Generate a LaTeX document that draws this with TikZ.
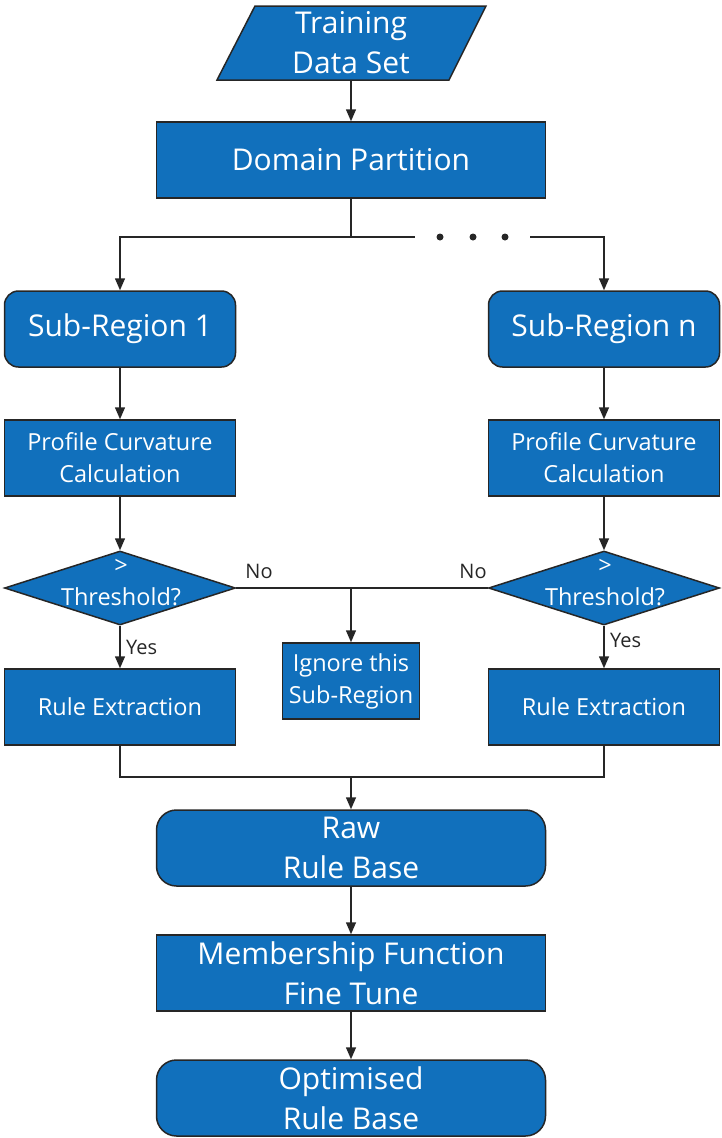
\documentclass[tikz,border=0pt]{standalone}
\usepackage{fontspec}
\setmainfont{Open Sans}
\usetikzlibrary{shapes.geometric,arrows.meta}
\definecolor{boxblue}{HTML}{1170BC}
\definecolor{edgegray}{HTML}{262626}

\begin{document}
\begin{tikzpicture}[x=1pt, y=-1pt,
  box/.style={draw=edgegray, fill=boxblue, line width=1.5pt, text=white, align=center, inner sep=0pt},
  bigbox/.style={box, minimum width=389pt, minimum height=76pt, font=\fontsize{30}{40}\selectfont},
  subbox/.style={box, rounded corners=14pt, minimum width=231pt, minimum height=76pt, font=\fontsize{30}{40}\selectfont},
  smallbox/.style={box, minimum width=231pt, minimum height=76pt, font=\fontsize{23.5}{32}\selectfont},
  decision/.style={box, diamond, minimum width=231pt, minimum height=74pt},
  dectext/.style={text=white, align=center, font=\fontsize{23.5}{32}\selectfont},
  arrow/.style={draw=edgegray, line width=1.5pt, -{Triangle[length=12pt, width=10pt]}},
  link/.style={draw=edgegray, line width=1.5pt},
  lbl/.style={text=edgegray, font=\fontsize{20}{22}\selectfont}
]
\useasboundingbox (0,0) rectangle (722,1138);

% Input
\draw[box] (255,6) -- (486,6) -- (449,80) -- (217,80) -- cycle;
\node[inner sep=0pt, minimum width=231pt, minimum height=74pt, text=white, align=center,
      font=\fontsize{30}{40}\selectfont] (data) at (351,43) {Training\\Data Set};

% Partition
\node[bigbox] (domain) at (351,160) {Domain Partition};
\draw[arrow] (data.south) -- (domain.north);

% Sub-regions
\node[subbox] (sub1) at (120,329) {Sub-Region 1};
\node[subbox] (subn) at (604,329) {Sub-Region n};
\coordinate (split) at (351,237);
\coordinate (gapleft) at (415,237);
\coordinate (gapright) at (530,237);
\draw[link] (domain.south) -- (split);
\draw[arrow] (split) -| (sub1.north);
\draw[link] (split) -- (gapleft);
\draw[arrow] (gapright) -| (subn.north);
\foreach \x in {440,473,505} {
    \fill[edgegray] (\x,237) circle (3.5pt);
}

% Curvature
\node[smallbox] (curv1) at (120,458) {Profile Curvature\\Calculation};
\node[smallbox] (curvn) at (604,458) {Profile Curvature\\Calculation};
\draw[arrow] (sub1.south) -- (curv1.north);
\draw[arrow] (subn.south) -- (curvn.north);

% Decisions
\node[decision] (dec1) at (120,588) {};
\node[dectext] at (121,583) {>\\Threshold?};
\node[decision] (decn) at (604,588) {};
\node[dectext] at (605,583) {>\\Threshold?};
\draw[arrow] (curv1.south) -- (dec1.north);
\draw[arrow] (curvn.south) -- (decn.north);

% No branch
\node[box, minimum width=137pt, minimum height=76pt, font=\fontsize{23.5}{32}\selectfont] (ignore) at (351,681) {Ignore this\\Sub-Region};
\draw[link] (dec1.east) -- (decn.west);
\node[lbl] at (259,571) {No};
\node[lbl] at (473,571) {No};
\draw[arrow] (dec1.east -| ignore.north) -- (ignore.north);

% Yes branch
\node[smallbox] (rule1) at (120,707) {Rule Extraction};
\node[smallbox] (rulen) at (604,707) {Rule Extraction};
\draw[arrow] (dec1.south) -- (rule1.north) node[lbl, midway, right=2pt] {Yes};
\draw[arrow] (decn.south) -- (rulen.north) node[lbl, pos=0.35, right=2pt] {Yes};

% Merge
\node[subbox, minimum width=389pt, rounded corners=20pt] (raw) at (351,848) {Raw\\Rule Base};
\coordinate (merge) at (351,777);
\draw[link] (rule1.south) |- (merge) -| (rulen.south);
\draw[arrow] (merge) -- (raw.north);

% Tuning
\node[bigbox] (tune) at (351,973) {Membership Function\\Fine Tune};
\node[subbox, minimum width=389pt, rounded corners=20pt] (opt) at (351,1098) {Optimised\\Rule Base};
\draw[arrow] (raw.south) -- (tune.north);
\draw[arrow] (tune.south) -- (opt.north);

\end{tikzpicture}
\end{document}
